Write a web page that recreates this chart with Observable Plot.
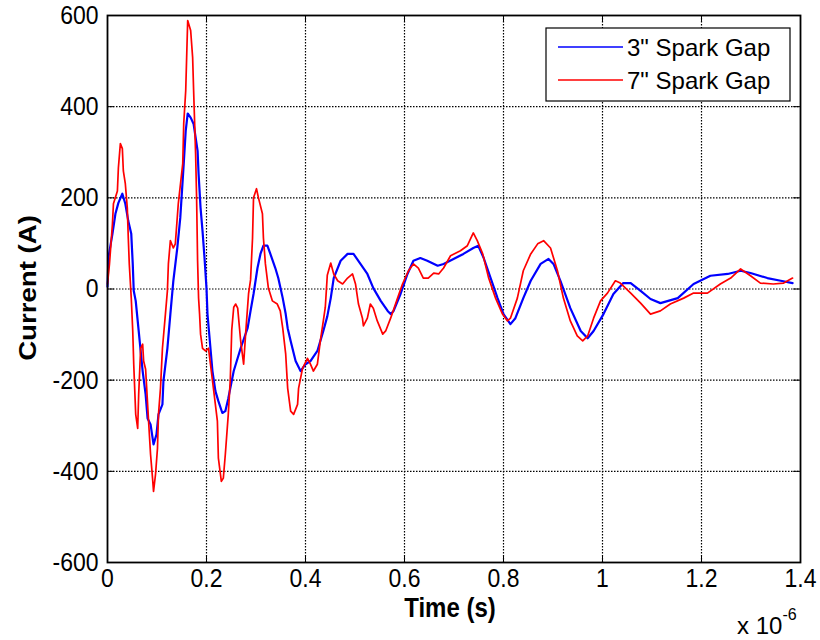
<!DOCTYPE html>
<html>
<head>
<meta charset="utf-8">
<script src="https://cdn.jsdelivr.net/npm/d3@7"></script>
<script src="https://cdn.jsdelivr.net/npm/@observablehq/plot@0.6"></script>
<style>
  html, body { margin: 0; padding: 0; background: #fff; }
  #chart { width: 820px; height: 640px; }
</style>
</head>
<body>
<div id="chart"></div>
<script>
// Time in units of 1e-6 s (axis shows "x 10^-6")
const blueT = [0.000,0.002,0.010,0.016,0.022,0.030,0.036,0.042,0.048,0.051,0.053,0.057,0.063,0.071,0.077,0.081,0.087,0.093,0.099,0.103,0.111,0.113,0.121,0.127,0.133,0.141,0.147,0.154,0.158,0.162,0.168,0.174,0.182,0.184,0.188,0.192,0.196,0.200,0.202,0.208,0.212,0.218,0.224,0.232,0.238,0.244,0.255,0.269,0.283,0.289,0.295,0.303,0.309,0.315,0.323,0.329,0.339,0.345,0.354,0.360,0.364,0.370,0.380,0.390,0.400,0.410,0.424,0.436,0.444,0.451,0.457,0.471,0.485,0.497,0.511,0.525,0.537,0.552,0.566,0.572,0.578,0.592,0.606,0.618,0.632,0.646,0.667,0.679,0.699,0.719,0.739,0.749,0.760,0.774,0.788,0.800,0.814,0.824,0.840,0.855,0.875,0.891,0.901,0.915,0.935,0.956,0.970,0.982,1.002,1.022,1.042,1.057,1.077,1.097,1.117,1.152,1.184,1.218,1.253,1.279,1.299,1.333,1.360,1.384];
const blueI = [5,70,121,165,189,209,187,149,121,55,-4,-26,-92,-180,-231,-284,-297,-341,-319,-275,-253,-202,-130,-55,18,90,156,275,347,385,376,362,303,253,178,127,68,2,-55,-130,-180,-224,-246,-272,-268,-240,-180,-130,-86,-48,-11,46,77,95,95,77,46,24,-20,-55,-86,-114,-158,-180,-165,-158,-136,-92,-60,-20,24,62,77,77,55,33,2,-26,-48,-55,-48,-11,33,62,68,62,51,55,66,77,90,95,68,24,-20,-55,-77,-64,-20,18,55,66,55,18,-42,-92,-108,-92,-55,-11,13,13,-4,-22,-31,-20,11,29,33,40,35,24,18,13];

const redT = [0.000,0.004,0.010,0.012,0.020,0.022,0.026,0.030,0.032,0.036,0.040,0.042,0.044,0.048,0.051,0.053,0.057,0.061,0.063,0.067,0.071,0.073,0.077,0.083,0.087,0.091,0.093,0.097,0.101,0.103,0.107,0.111,0.117,0.121,0.123,0.127,0.133,0.137,0.143,0.152,0.154,0.158,0.162,0.168,0.172,0.174,0.178,0.180,0.182,0.184,0.186,0.188,0.192,0.198,0.204,0.208,0.214,0.222,0.224,0.230,0.234,0.238,0.244,0.248,0.251,0.255,0.259,0.263,0.269,0.275,0.279,0.285,0.289,0.293,0.295,0.301,0.305,0.313,0.315,0.319,0.325,0.333,0.343,0.349,0.354,0.360,0.364,0.370,0.376,0.384,0.386,0.394,0.404,0.410,0.416,0.424,0.430,0.436,0.440,0.444,0.451,0.457,0.465,0.475,0.485,0.495,0.501,0.507,0.515,0.517,0.525,0.531,0.537,0.545,0.556,0.562,0.572,0.586,0.596,0.608,0.618,0.628,0.638,0.648,0.659,0.669,0.679,0.693,0.713,0.727,0.739,0.747,0.758,0.770,0.784,0.798,0.808,0.814,0.828,0.840,0.855,0.869,0.881,0.895,0.909,0.921,0.935,0.949,0.960,0.970,0.982,0.996,1.010,1.026,1.036,1.057,1.077,1.097,1.117,1.137,1.164,1.184,1.212,1.238,1.259,1.279,1.299,1.319,1.345,1.366,1.384];
const redI = [11,55,143,187,215,266,319,308,259,231,178,112,55,-20,-92,-165,-275,-306,-231,-130,-121,-158,-176,-290,-363,-415,-444,-407,-349,-275,-218,-130,-55,-4,55,106,90,99,187,275,363,435,589,567,508,435,297,200,62,-20,-55,-99,-130,-136,-130,-165,-218,-290,-371,-422,-415,-363,-275,-200,-90,-40,-33,-42,-114,-165,-99,-10,20,112,200,220,200,165,112,55,2,-26,-33,-48,-86,-143,-218,-268,-275,-253,-218,-174,-152,-165,-180,-165,-114,-70,-40,30,57,33,18,11,24,33,11,-33,-64,-81,-64,-33,-42,-70,-99,-92,-64,-20,11,40,55,46,24,24,35,33,46,73,84,95,123,106,77,24,-20,-55,-70,-64,-20,40,77,99,106,90,40,-20,-70,-103,-114,-103,-64,-26,-9,18,13,-9,-31,-55,-48,-33,-20,-9,-9,11,24,44,29,13,11,13,24];

const xTicks = [0, 0.2, 0.4, 0.6, 0.8, 1.0, 1.2, 1.4];
const yTicks = [-600, -400, -200, 0, 200, 400, 600];
const seriesNames = ['3" Spark Gap', '7" Spark Gap'];
const seriesColors = ["#0000ff", "#ff0000"];

const blue = blueT.map((t, i) => ({t, I: blueI[i]}));
const red = redT.map((t, i) => ({t, I: redI[i]}));

const xInner = xTicks.slice(1, -1);
const yInner = yTicks.slice(1, -1);

const plot = Plot.plot({
  width: 820,
  height: 640,
  marginLeft: 107,
  marginRight: 20,
  marginTop: 15,
  marginBottom: 78,
  style: {fontFamily: "'Liberation Sans', Arial, sans-serif", fontSize: "23px", background: "white", color: "black"},
  x: {domain: [0, 1.4]},
  y: {domain: [-600, 600]},
  marks: [
    Plot.ruleX(xInner, {stroke: "black", strokeOpacity: 1, strokeWidth: 1.2, strokeDasharray: "1.5,1.5"}),
    Plot.ruleY(yInner, {stroke: "black", strokeOpacity: 1, strokeWidth: 1.2, strokeDasharray: "1.5,1.5"}),
    // inward ticks (MATLAB style) on all four sides
    Plot.ruleX(xTicks, {y1: -600, y2: -585, stroke: "black", strokeWidth: 1}),
    Plot.ruleX(xTicks, {y1: 585, y2: 600, stroke: "black", strokeWidth: 1}),
    Plot.ruleY(yTicks, {x1: 0, x2: 0.014, stroke: "black", strokeWidth: 1}),
    Plot.ruleY(yTicks, {x1: 1.386, x2: 1.4, stroke: "black", strokeWidth: 1}),
    Plot.line(blue, {x: "t", y: "I", stroke: seriesColors[0], strokeWidth: 2.2}),
    Plot.line(red, {x: "t", y: "I", stroke: seriesColors[1], strokeWidth: 1.7}),
    Plot.frame({stroke: "black", strokeWidth: 1.8}),
    Plot.axisX(xTicks, {tickSize: 0, tickPadding: 6, tickFormat: d => String(+d.toFixed(1)), label: null, fontSize: 23}),
    Plot.axisY(yTicks, {tickSize: 0, tickPadding: 9, tickFormat: d => String(d), label: null, fontSize: 23})
  ]
});

document.getElementById("chart").appendChild(plot);

const svg = d3.select(plot);
// slight vertical stretch of tick labels, like the reference
svg.selectAll('g[aria-label$="tick label"] text').each(function() {
  const x = parseFloat(this.getAttribute("x")) || 0;
  const y = parseFloat(this.getAttribute("y")) || 0;
  const t = this.getAttribute("transform") || "";
  this.setAttribute("transform", `${t} translate(${x},${y}) scale(1,1.15) translate(${-x},${-y})`);
});

const font = "'Liberation Sans', Arial, sans-serif";
// axis titles
svg.append("text")
  .attr("transform", "translate(450,617) scale(1,1.15)")
  .attr("text-anchor", "middle")
  .attr("font-family", font).attr("font-size", 24).attr("font-weight", "bold")
  .text("Time (s)");
svg.append("text")
  .attr("transform", "translate(36,288) rotate(-90) scale(1.15,1)")
  .attr("text-anchor", "middle")
  .attr("font-family", font).attr("font-size", 24).attr("font-weight", "bold")
  .text("Current (A)");
// exponent
const ex = svg.append("text")
  .attr("x", 737).attr("y", 634)
  .attr("text-anchor", "start")
  .attr("font-family", font).attr("font-size", 24);
ex.append("tspan").text("x 10");
ex.append("tspan").attr("dy", -14).attr("font-size", 16).text("-6");

// legend
const lg = svg.append("g");
lg.append("rect").attr("x", 546).attr("y", 28).attr("width", 244).attr("height", 73)
  .attr("fill", "white").attr("stroke", "black").attr("stroke-width", 1.2);
const rowsY = [47, 80];
seriesNames.forEach((name, i) => {
  lg.append("line").attr("x1", 558).attr("x2", 623).attr("y1", rowsY[i]).attr("y2", rowsY[i])
    .attr("stroke", seriesColors[i]).attr("stroke-width", 1.6);
  lg.append("text").attr("x", 627).attr("y", rowsY[i] + 9)
    .attr("text-anchor", "start")
    .attr("font-family", font).attr("font-size", 24).text(name);
});
</script>
</body>
</html>
